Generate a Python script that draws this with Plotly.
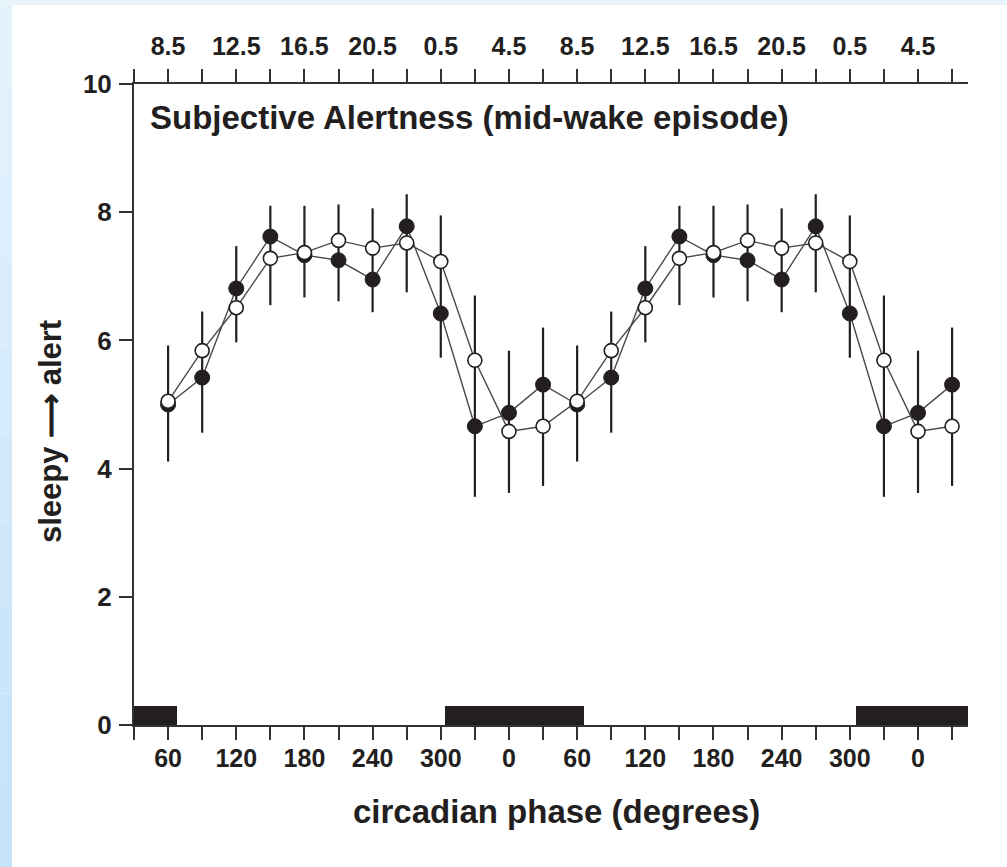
import plotly.graph_objects as go

# circadian phase (continuous degrees, double-plotted)
phase = [60, 90, 120, 150, 180, 210, 240, 270, 300, 330, 360, 390,
         420, 450, 480, 510, 540, 570, 600, 630, 660, 690, 720, 750]

filled_vals = [5.00, 5.42, 6.81, 7.62, 7.33, 7.25, 6.95, 7.78, 6.42, 4.66, 4.87, 5.31,
               5.00, 5.42, 6.81, 7.62, 7.33, 7.25, 6.95, 7.78, 6.42, 4.66, 4.87, 5.31]
open_vals = [5.05, 5.84, 6.51, 7.28, 7.37, 7.56, 7.44, 7.52, 7.23, 5.69, 4.58, 4.66,
             5.05, 5.84, 6.51, 7.28, 7.37, 7.56, 7.44, 7.52, 7.23, 5.69, 4.58, 4.66]
# upper / lower ends of the error bars
err_top = [5.92, 6.45, 7.47, 8.10, 8.10, 8.12, 8.06, 8.28, 7.95, 6.70, 5.84, 6.20,
           5.92, 6.45, 7.47, 8.10, 8.10, 8.12, 8.06, 8.28, 7.95, 6.70, 5.84, 6.20]
err_bot = [4.11, 4.56, 5.97, 6.55, 6.67, 6.61, 6.44, 6.75, 5.73, 3.56, 3.62, 3.73,
           4.11, 4.56, 5.97, 6.55, 6.67, 6.61, 6.44, 6.75, 5.73, 3.56, 3.62, 3.73]

# sleep episodes (black bars), degrees
sleep_start = [-52, 304, 665]
sleep_end = [68, 426, 785]
sleep_height = 0.3

# axis ticks
tick_pos = list(range(30, 751, 30))
bottom_label_pos = list(range(60, 721, 60))
bottom_labels = ["60", "120", "180", "240", "300", "0", "60", "120", "180", "240", "300", "0"]
top_labels = ["8.5", "12.5", "16.5", "20.5", "0.5", "4.5", "8.5", "12.5", "16.5", "20.5", "0.5", "4.5"]
y_ticks = [0, 2, 4, 6, 8, 10]

x_range = [30, 764]

bottom_text = [bottom_labels[bottom_label_pos.index(p)] if p in bottom_label_pos else "" for p in tick_pos]
top_text = [top_labels[bottom_label_pos.index(p)] if p in bottom_label_pos else "" for p in tick_pos]

FONT = "Liberation Sans, Arial, sans-serif"
INK = "#231f20"

fig = go.Figure()

# sleep bars
fig.add_trace(go.Bar(
    x=[(s + e) / 2 for s, e in zip(sleep_start, sleep_end)],
    y=[sleep_height] * len(sleep_start),
    width=[e - s for s, e in zip(sleep_start, sleep_end)],
    base=0,
    marker=dict(color=INK, line=dict(width=0)),
    showlegend=False, hoverinfo="skip",
))

# filled series with error bars
fig.add_trace(go.Scatter(
    x=phase, y=filled_vals, mode="lines+markers",
    line=dict(color="#4a4a4a", width=1.4),
    marker=dict(symbol="circle", size=15, color=INK, line=dict(color=INK, width=1)),
    error_y=dict(type="data", symmetric=False,
                 array=[t - v for t, v in zip(err_top, filled_vals)],
                 arrayminus=[v - b for b, v in zip(err_bot, filled_vals)],
                 color=INK, thickness=2.2, width=0),
    showlegend=False,
))

# open series
fig.add_trace(go.Scatter(
    x=phase, y=open_vals, mode="lines+markers",
    line=dict(color="#4a4a4a", width=1.4),
    marker=dict(symbol="circle", size=14, color="white", line=dict(color=INK, width=1.6)),
    showlegend=False,
))

# invisible trace to anchor the top axis
fig.add_trace(go.Scatter(
    x=phase, y=open_vals, xaxis="x2", mode="markers",
    marker=dict(opacity=0), showlegend=False, hoverinfo="skip",
))

axis_font = dict(family=FONT, size=25, color=INK, weight="bold")

fig.update_layout(
    width=1007, height=867,
    margin=dict(l=134, r=39, t=84, b=142),
    paper_bgcolor="white", plot_bgcolor="white",
    bargap=0,
    xaxis=dict(
        range=x_range, tickmode="array", tickvals=tick_pos, ticktext=bottom_text,
        ticks="outside", ticklen=13, tickwidth=2, tickcolor="#333",
        showline=True, linewidth=2, linecolor="#333",
        showgrid=False, zeroline=False, tickfont=axis_font,
        ticklabelstandoff=-3,
    ),
    xaxis2=dict(
        range=x_range, overlaying="x", side="top", anchor="y",
        tickmode="array", tickvals=tick_pos, ticktext=top_text,
        ticks="outside", ticklen=13, tickwidth=2, tickcolor="#333",
        showline=True, linewidth=2, linecolor="#333",
        showgrid=False, zeroline=False, tickfont=axis_font,
        ticklabelstandoff=4,
    ),
    yaxis=dict(
        range=[0, 10], tickmode="array", tickvals=y_ticks,
        ticks="outside", ticklen=13, tickwidth=2, tickcolor="#333",
        showline=True, linewidth=2, linecolor="#333",
        showgrid=False, zeroline=False,
        tickfont=dict(family=FONT, size=26, color=INK, weight="bold"),
        ticklabelstandoff=2,
    ),
    annotations=[
        dict(text="Subjective Alertness (mid-wake episode)", xref="paper", yref="paper",
             x=0.0168, y=0.947, xanchor="left", yanchor="middle", showarrow=False,
             font=dict(family=FONT, size=33, color=INK, weight="bold")),
        dict(text="circadian phase (degrees)", xref="paper", yref="paper",
             x=0.506, y=-0.1357, xanchor="center", yanchor="middle", showarrow=False,
             font=dict(family=FONT, size=33, color=INK, weight="bold")),
        dict(text="sleepy \u27f6 alert", xref="paper", yref="paper",
             x=-0.1007, y=0.457, xanchor="center", yanchor="middle", showarrow=False,
             textangle=-90,
             font=dict(family=FONT, size=31, color=INK, weight="bold")),
    ],
)

# light blue frame strips on the page edge
plot_w, plot_h = 834.0, 641.0
def px_x(p):
    return (p - 134) / plot_w
def px_y(p):
    return (725 - p) / plot_h

shapes = []
steps = 10
for i in range(steps):
    y0p = 867 * i / steps
    y1p = 867 * (i + 1) / steps
    t = (i + 0.5) / steps
    r = int(0xe6 + (0xc3 - 0xe6) * t)
    g = int(0xf3 + (0xe2 - 0xf3) * t)
    b = int(0xfd + (0xfa - 0xfd) * t)
    shapes.append(dict(type="rect", xref="paper", yref="paper",
                       x0=px_x(0), x1=px_x(12), y0=px_y(y1p), y1=px_y(y0p),
                       fillcolor=f"rgb({r},{g},{b})", line=dict(width=0), layer="below"))
shapes.append(dict(type="rect", xref="paper", yref="paper",
                   x0=px_x(0), x1=px_x(1007), y0=px_y(5), y1=px_y(0),
                   fillcolor="#e8f3fc", line=dict(width=0), layer="below"))
fig.update_layout(shapes=shapes)

fig.write_html("out.html",
               config={"displayModeBar": False},
               post_script="document.body.style.margin='0';document.body.style.padding='0';")
